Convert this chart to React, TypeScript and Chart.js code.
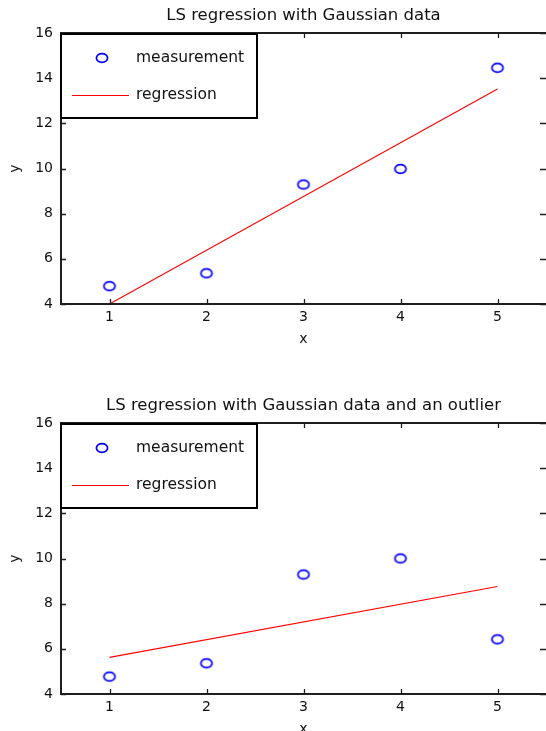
import React, { useEffect, useRef } from "react";
import { Chart, registerables } from "chart.js";

Chart.register(...registerables);

// ---- data ----
const xValues = [1, 2, 3, 4, 5];
const measurementTop = [4.79, 5.36, 9.29, 9.98, 14.46];
const measurementBottom = [4.77, 5.36, 9.29, 10.0, 6.42];
const regressionX = [1, 5];
const regressionTop = [4.0, 13.52];
const regressionBottom = [5.62, 8.76];
const xTicks = [1, 2, 3, 4, 5];
const yTicks = [4, 6, 8, 10, 12, 14, 16];
const xLimits = [0.5, 5.5];
const yLimits = [4, 16];
const titleTop = "LS regression with Gaussian data";
const titleBottom = "LS regression with Gaussian data and an outlier";
const legendLabels = ["measurement", "regression"];
const xLabel = "x";
const yLabel = "y";

const FONT = "'DejaVu Sans', sans-serif";
const BLUE = "#0000ff";
const RED = "#ff0000";
const AXIS = "#1e1e1e";

function makeMarker(): HTMLCanvasElement {
  const c = document.createElement("canvas");
  c.width = 18;
  c.height = 16;
  const g = c.getContext("2d")!;
  g.strokeStyle = BLUE;
  g.lineWidth = 1.7;
  g.beginPath();
  g.ellipse(9, 8, 5.6, 4.4, 0, 0, Math.PI * 2);
  g.stroke();
  return c;
}

const framePlugin = {
  id: "matlabFrame",
  afterDatasetsDraw(chart: any) {
    const { ctx, chartArea: a, scales } = chart;
    ctx.save();
    ctx.strokeStyle = AXIS;
    ctx.lineWidth = 2;
    ctx.beginPath();
    ctx.moveTo(a.right + 3, a.top);
    ctx.lineTo(a.left, a.top);
    ctx.lineTo(a.left, a.bottom);
    ctx.lineTo(a.right + 3, a.bottom);
    ctx.stroke();
    ctx.lineWidth = 1.3;
    ctx.beginPath();
    xTicks.forEach((v) => {
      const px = Math.round(scales.x.getPixelForValue(v)) + 0.5;
      ctx.moveTo(px, a.bottom);
      ctx.lineTo(px, a.bottom - 5);
      ctx.moveTo(px, a.top);
      ctx.lineTo(px, a.top + 5);
    });
    yTicks.forEach((v) => {
      const py = Math.round(scales.y.getPixelForValue(v)) + 0.5;
      ctx.moveTo(a.left, py);
      ctx.lineTo(a.left + 5, py);
      ctx.moveTo(a.right, py);
      ctx.lineTo(a.right - 6, py);
    });
    ctx.stroke();
    ctx.restore();
  },
};

const legendBoxPlugin = {
  id: "matlabLegend",
  afterDraw(chart: any) {
    const { ctx, chartArea: a } = chart;
    const marker = chart.options.plugins.matlabLegend.marker as HTMLCanvasElement;
    const x0 = a.left;
    const y0 = a.top + 1;
    const w = 196;
    const h = 84;
    ctx.save();
    ctx.fillStyle = "#ffffff";
    ctx.fillRect(x0, y0, w, h);
    ctx.strokeStyle = "#000000";
    ctx.lineWidth = 2;
    ctx.strokeRect(x0, y0, w, h);
    // measurement entry
    ctx.drawImage(marker, x0 + 41 - 9, a.top + 25 - 8);
    ctx.font = `15.5px ${FONT}`;
    ctx.fillStyle = "#111111";
    ctx.textBaseline = "middle";
    ctx.textAlign = "left";
    ctx.fillText(legendLabels[0], x0 + 75, a.top + 25);
    // regression entry
    ctx.strokeStyle = RED;
    ctx.lineWidth = 1;
    ctx.beginPath();
    ctx.moveTo(x0 + 11, a.top + 62.5);
    ctx.lineTo(x0 + 68, a.top + 62.5);
    ctx.stroke();
    ctx.fillText(legendLabels[1], x0 + 75, a.top + 62);
    ctx.restore();
  },
};

function Subplot(props: {
  top: number;
  title: string;
  measurement: number[];
  regression: number[];
}) {
  const ref = useRef<HTMLCanvasElement | null>(null);
  useEffect(() => {
    const canvas = ref.current;
    if (!canvas) return;
    const marker = makeMarker();
    const chart = new Chart(canvas, {
      type: "scatter",
      data: {
        datasets: [
          {
            label: legendLabels[0],
            data: xValues.map((x, i) => ({ x, y: props.measurement[i] })),
            showLine: false,
            pointStyle: marker as any,
            pointRadius: 5,
            borderColor: BLUE,
            backgroundColor: "transparent",
          },
          {
            label: legendLabels[1],
            data: regressionX.map((x, i) => ({ x, y: props.regression[i] })),
            showLine: true,
            borderColor: RED,
            borderWidth: 1.1,
            pointRadius: 0,
          },
        ],
      },
      options: {
        animation: false,
        responsive: false,
        devicePixelRatio: 1,
        layout: { padding: 0, autoPadding: false },
        events: [],
        plugins: {
          legend: { display: false },
          tooltip: { enabled: false },
          title: {
            display: true,
            text: props.title,
            fullSize: false,
            color: "#111111",
            font: { family: FONT, size: 16.5, weight: "normal" },
            padding: { top: 5.7, bottom: 7.5 },
          },
          matlabLegend: { marker },
        } as any,
        scales: {
          x: {
            type: "linear",
            min: xLimits[0],
            max: xLimits[1],
            grid: { display: false, drawTicks: false },
            border: { display: false },
            afterBuildTicks: (s: any) => {
              s.ticks = xTicks.map((v) => ({ value: v }));
            },
            afterFit: (s: any) => {
              s.height = 56;
              s.paddingLeft = 0;
              s.paddingRight = 0;
            },
            ticks: {
              color: "#111111",
              font: { family: FONT, size: 14 },
              padding: 5,
              maxRotation: 0,
              callback: (v: any) => String(v),
            },
            title: {
              display: true,
              text: xLabel,
              color: "#111111",
              font: { family: FONT, size: 14 },
              padding: { top: 0, bottom: 12.6 },
            },
          },
          y: {
            type: "linear",
            min: yLimits[0],
            max: yLimits[1],
            grid: { display: false, drawTicks: false },
            border: { display: false },
            afterBuildTicks: (s: any) => {
              s.ticks = yTicks.map((v) => ({ value: v }));
            },
            afterFit: (s: any) => {
              s.width = 61;
              s.paddingTop = 0;
              s.paddingBottom = 0;
            },
            ticks: {
              color: "#111111",
              font: { family: FONT, size: 14 },
              padding: 8,
              callback: (v: any) => String(v),
            },
            title: {
              display: true,
              text: yLabel,
              color: "#111111",
              font: { family: FONT, size: 14 },
              padding: { top: 6.6, bottom: 0 },
            },
          },
        },
      } as any,
      plugins: [framePlugin, legendBoxPlugin],
    });
    return () => chart.destroy();
  }, [props.title]);
  return (
    <canvas
      ref={ref}
      width={546}
      height={360}
      style={{ position: "absolute", left: 0, top: props.top, display: "block" }}
    />
  );
}

export default function App() {
  return (
    <div
      style={{
        position: "absolute",
        left: 0,
        top: 0,
        width: 546,
        height: 731,
        overflow: "hidden",
        background: "#ffffff",
      }}
    >
      <Subplot top={0} title={titleTop} measurement={measurementTop} regression={regressionTop} />
      <Subplot top={390} title={titleBottom} measurement={measurementBottom} regression={regressionBottom} />
    </div>
  );
}
